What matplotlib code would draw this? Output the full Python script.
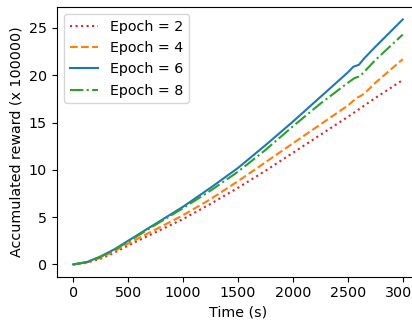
import matplotlib
matplotlib.use("Agg")
import matplotlib.pyplot as plt
import numpy as np

# time (s) and accumulated reward (x 100000)
t_e2 = [0, 125, 250, 375, 500, 750, 1000, 1250, 1500, 1750, 2000, 2250, 2500, 2750, 3000]
r_e2 = [0, 0.2, 0.6, 1.25, 2.0, 3.4, 4.8, 6.4, 8.1, 9.9, 11.8, 13.7, 15.6, 17.6, 19.5]

t_e4 = [0, 125, 250, 375, 500, 750, 1000, 1250, 1500, 1750, 2000, 2250, 2500,
        2580, 2630, 2680, 2750, 3000]
r_e4 = [0, 0.22, 0.7, 1.4, 2.2, 3.7, 5.2, 6.9, 8.8, 10.8, 12.8, 14.8, 16.8,
        17.6, 17.9, 18.4, 19.2, 21.7]

t_e6 = [0, 125, 250, 375, 500, 750, 1000, 1250, 1500, 1750, 2000, 2250, 2500,
        2550, 2600, 2650, 2750, 3000]
r_e6 = [0, 0.25, 0.85, 1.6, 2.5, 4.3, 6.1, 8.1, 10.2, 12.6, 15.1, 17.7, 20.3,
        20.9, 21.1, 21.8, 23.0, 25.9]

t_e8 = [0, 125, 250, 375, 500, 750, 1000, 1250, 1500, 1750, 2000, 2250, 2500,
        2560, 2610, 2660, 2750, 3000]
r_e8 = [0, 0.25, 0.8, 1.55, 2.4, 4.2, 5.95, 7.8, 9.8, 12.1, 14.6, 17.0, 19.2,
        19.7, 19.9, 20.5, 21.6, 24.3]

plt.rcParams["font.size"] = 10.3

fig = plt.figure(figsize=(4.12, 3.22), dpi=100)
ax = fig.add_axes([0.1376, 0.1407, 0.88, 0.837])

ax.plot(t_e2, r_e2, ":", color="tab:red", label="Epoch = 2")
ax.plot(t_e4, r_e4, "--", color="tab:orange", label="Epoch = 4")
ax.plot(t_e6, r_e6, "-", color="tab:blue", label="Epoch = 6")
ax.plot(t_e8, r_e8, "-.", color="tab:green", label="Epoch = 8")

ax.set_xticks([0, 500, 1000, 1500, 2000, 2500, 3000])
ax.set_yticks([0, 5, 10, 15, 20, 25])
ax.set_xlabel("Time (s)")
ax.set_ylabel("Accumulated reward (x 100000)")
ax.legend(loc="upper left")

fig.savefig("out.png", dpi=100)
